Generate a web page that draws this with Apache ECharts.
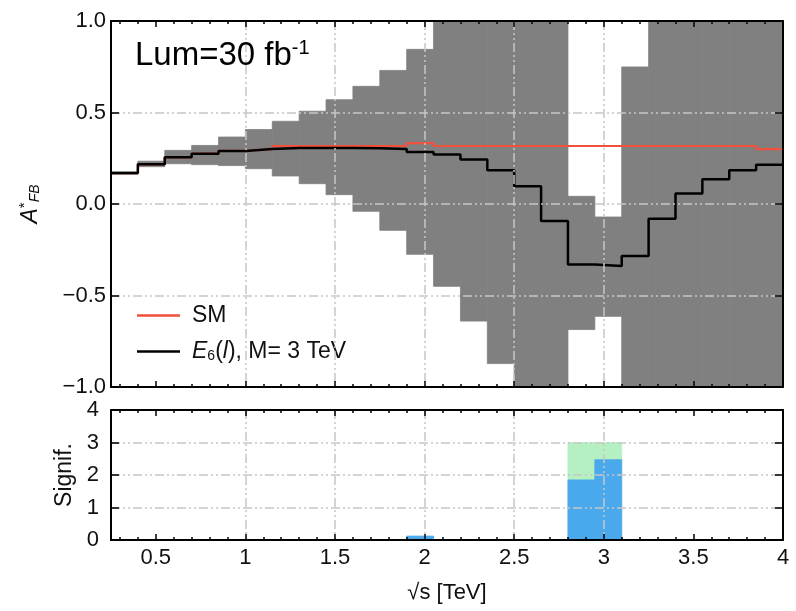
<!DOCTYPE html>
<html><head><meta charset="utf-8">
<script src="https://cdn.jsdelivr.net/npm/echarts@6/dist/echarts.min.js"></script>
<style>html,body{margin:0;padding:0;background:#fff}#chart{width:796px;height:611px}</style>
</head><body><div id="chart"></div>
<script>
// ---- data ----
const binEdges = [0.25,0.40,0.55,0.70,0.85,1.00,1.15,1.30,1.45,1.60,1.75,1.90,2.05,2.20,2.35,2.50,2.65,2.80,2.95,3.10,3.25,3.40,3.55,3.70,3.85,4.00];
const e6Values = [0.169,0.217,0.255,0.275,0.290,0.300,0.306,0.306,0.306,0.305,0.300,0.284,0.270,0.243,0.184,0.097,-0.093,-0.330,-0.339,-0.284,-0.080,0.057,0.135,0.184,0.215];
const smValues = [0.169,0.217,0.255,0.275,0.290,0.300,0.317,0.317,0.317,0.317,0.317,0.333,0.317,0.317,0.317,0.317,0.317,0.317,0.317,0.317,0.317,0.317,0.317,0.317,0.300];
const bandLow  = [0.163,0.204,0.220,0.215,0.210,0.193,0.153,0.111,0.051,-0.040,-0.144,-0.275,-0.450,-0.640,-0.872,-1.5,-1.5,-0.686,-0.614,-1.5,-1.5,-1.5,-1.5,-1.5,-1.5];
const bandHigh = [0.175,0.234,0.293,0.320,0.366,0.407,0.452,0.507,0.570,0.643,0.730,0.845,1.5,1.5,1.5,1.5,1.5,0.042,-0.071,0.749,1.5,1.5,1.5,1.5,1.5];
const sigGreen = [0,0,0,0,0,0,0,0,0,0,0,0,0,0,0,0,0,3.0,3.0,0,0,0,0,0,0];
const sigBlue  = [0,0,0,0,0,0,0,0,0,0,0,0.12,0,0,0,0,0,1.85,2.47,0,0,0,0,0,0];
const xLabelValues = [0.5,1,1.5,2,2.5,3,3.5,4];
const xTickValues = [0.5,1,1.5,2,2.5,3,3.5];
const xMinorValues = [0.3,0.4,0.6,0.7,0.8,0.9,1.1,1.2,1.3,1.4,1.6,1.7,1.8,1.9,2.1,2.2,2.3,2.4,2.6,2.7,2.8,2.9,3.1,3.2,3.3,3.4,3.6,3.7,3.8,3.9];
const seriesNames = ['SM', 'E6(l), M= 3 TeV'];

// ---- chart ----
const FONT = '"Liberation Sans", Arial, Helvetica, sans-serif';
const TXT = '#111';
const gridLine = {show:true, showMinLine:false, showMaxLine:false,
  lineStyle:{color:'#c6c6c6', width:1.5, type:[9,3,2,3,2,3]}};
const frame = {show:true, onZero:false, lineStyle:{color:'#000', width:2}};

const xAxes = [];
[0,1].forEach(g => {
  ['bottom','top'].forEach(pos => {
    const main = g === 1 && pos === 'bottom';
    const ax = {type:'value', gridIndex:g, position:pos, min:0.25, max:4, z:10,
      axisLine:frame,
      axisTick:{show:true, inside:true, length:6, customValues:xTickValues, lineStyle:{color:'#000', width:1.5}},
      axisLabel:{show:main, customValues:xLabelValues, margin:7, fontSize:22, fontFamily:FONT, color:TXT},
      splitLine: pos === 'bottom' ? gridLine : {show:false}};
    if (main) {
      ax.name = '√s [TeV]'; ax.nameLocation = 'middle'; ax.nameGap = 42;
      ax.nameTextStyle = {fontSize:22, fontFamily:FONT, color:TXT};
    }
    xAxes.push(ax);
    xAxes.push({type:'value', gridIndex:g, position:pos, min:0.25, max:4, z:10,
      axisLine:{show:false, onZero:false},
      axisTick:{show:true, inside:true, length:3, customValues:xMinorValues, lineStyle:{color:'#000', width:1.5}},
      axisLabel:{show:false}, splitLine:{show:false}});
  });
});

const fmtA = v => (v < 0 ? '\u2212' : '') + Math.abs(v).toFixed(1);
const yAxes = [
  {type:'value', gridIndex:0, position:'left', min:-1, max:1, interval:0.5, z:10,
   axisLine:frame, axisTick:{show:true, inside:true, length:8, lineStyle:{color:'#000', width:1.5}},
   axisLabel:{formatter:fmtA, margin:5, fontSize:22, fontFamily:FONT, color:TXT},
   splitLine:gridLine,
   name:'{a|A}{s|*}{b|FB}', nameLocation:'middle', nameGap:67, nameRotate:90,
   nameTextStyle:{fontFamily:FONT, color:TXT, rich:{
     a:{fontSize:23, fontStyle:'italic', fontFamily:FONT, color:TXT},
     s:{fontSize:15, fontFamily:FONT, color:TXT, padding:[0,0,12,0]},
     b:{fontSize:14, fontStyle:'italic', fontFamily:FONT, color:TXT, padding:[10,0,0,0]}}}},
  {type:'value', gridIndex:0, position:'right', min:-1, max:1, interval:0.5, z:10,
   axisLine:frame, axisTick:{show:true, inside:true, length:8, lineStyle:{color:'#000', width:1.5}},
   axisLabel:{show:false}, splitLine:{show:false}},
  {type:'value', gridIndex:1, position:'left', min:0, max:4, interval:1, z:10,
   axisLine:frame, axisTick:{show:true, inside:true, length:8, lineStyle:{color:'#000', width:1.5}},
   axisLabel:{margin:12, fontSize:22, fontFamily:FONT, color:TXT},
   splitLine:gridLine,
   name:'Signif.', nameLocation:'middle', nameGap:29, nameRotate:90,
   nameTextStyle:{fontSize:23, fontFamily:FONT, color:TXT}},
  {type:'value', gridIndex:1, position:'right', min:0, max:4, interval:1, z:10,
   axisLine:frame, axisTick:{show:true, inside:true, length:8, lineStyle:{color:'#000', width:1.5}},
   axisLabel:{show:false}, splitLine:{show:false}}
];

function binRects(values, lowValues) {
  return binEdges.slice(0, -1).map((x0, i) => [x0, binEdges[i + 1], lowValues ? lowValues[i] : 0, values[i]]);
}
function stepData(values) {
  return binEdges.map((x, i) => [x, values[Math.min(i, values.length - 1)]]);
}
function rectRenderer(color) {
  return function (params, api) {
    const p0 = api.coord([api.value(0), api.value(3)]);
    const p1 = api.coord([api.value(1), api.value(2)]);
    const cs = params.coordSys;
    const shape = echarts.graphic.clipRectByRect(
      {x:p0[0], y:p0[1], width:p1[0] - p0[0], height:p1[1] - p0[1]},
      {x:cs.x, y:cs.y, width:cs.width, height:cs.height});
    if (!shape || shape.height <= 0) return null;
    return {type:'rect', shape:shape, style:{fill:color, stroke:color, lineWidth:0.8}};
  };
}

const option = {
  animation:false,
  backgroundColor:'#fff',
  grid:[
    {left:111, top:21, width:672, height:366},
    {left:111, top:410, width:672, height:130}
  ],
  xAxis:xAxes,
  yAxis:yAxes,
  legend:{
    data:[{name:seriesNames[0], icon:'rect'}, {name:seriesNames[1], icon:'rect'}],
    left:132, top:299, orient:'vertical', itemGap:13,
    itemWidth:43, itemHeight:2.5,
    textStyle:{fontSize:23, fontFamily:FONT, color:TXT, padding:[0,0,0,7],
      rich:{n:{fontSize:23, fontFamily:FONT, color:TXT},
            i:{fontSize:23, fontStyle:'italic', fontFamily:FONT, color:TXT},
            s:{fontSize:14, fontFamily:FONT, color:TXT, padding:[10,0,0,0]}}},
    formatter: name => name === 'SM' ? '{n|SM}' : '{i|E}{s|6}{n|(}{i|l}{n|), M= 3 TeV}'
  },
  graphic:[{type:'text', left:135, top:38, z:20,
    style:{text:'{a|Lum=30 fb}{s|-1}', rich:{
      a:{fontSize:33, fontFamily:FONT, fill:'#000'},
      s:{fontSize:20, fontFamily:FONT, fill:'#000', padding:[0,0,16,0]}}}}],
  series:[
    {type:'custom', name:'band', xAxisIndex:0, yAxisIndex:0, z:1,
     renderItem:rectRenderer('#808080'), encode:{x:[0,1], y:[2,3]},
     data:binRects(bandHigh, bandLow)},
    {type:'line', name:seriesNames[0], xAxisIndex:0, yAxisIndex:0, step:'end', symbol:'none', z:3,
     color:'#f0503c', lineStyle:{color:'#f0503c', width:2.2}, data:stepData(smValues)},
    {type:'line', name:seriesNames[1], xAxisIndex:0, yAxisIndex:0, step:'end', symbol:'none', z:4,
     color:'#000', lineStyle:{color:'#000', width:2.5}, data:stepData(e6Values)},
    {type:'custom', name:'sigGreen', xAxisIndex:4, yAxisIndex:2, z:1,
     renderItem:rectRenderer('#b4f0c2'), encode:{x:[0,1], y:[2,3]},
     data:binRects(sigGreen)},
    {type:'custom', name:'sigBlue', xAxisIndex:4, yAxisIndex:2, z:2,
     renderItem:rectRenderer('#4aa8ec'), encode:{x:[0,1], y:[2,3]},
     data:binRects(sigBlue)}
  ]
};
const chart = echarts.init(document.getElementById('chart'), null, {renderer:'canvas'});
chart.setOption(option);
</script>
</body></html>
